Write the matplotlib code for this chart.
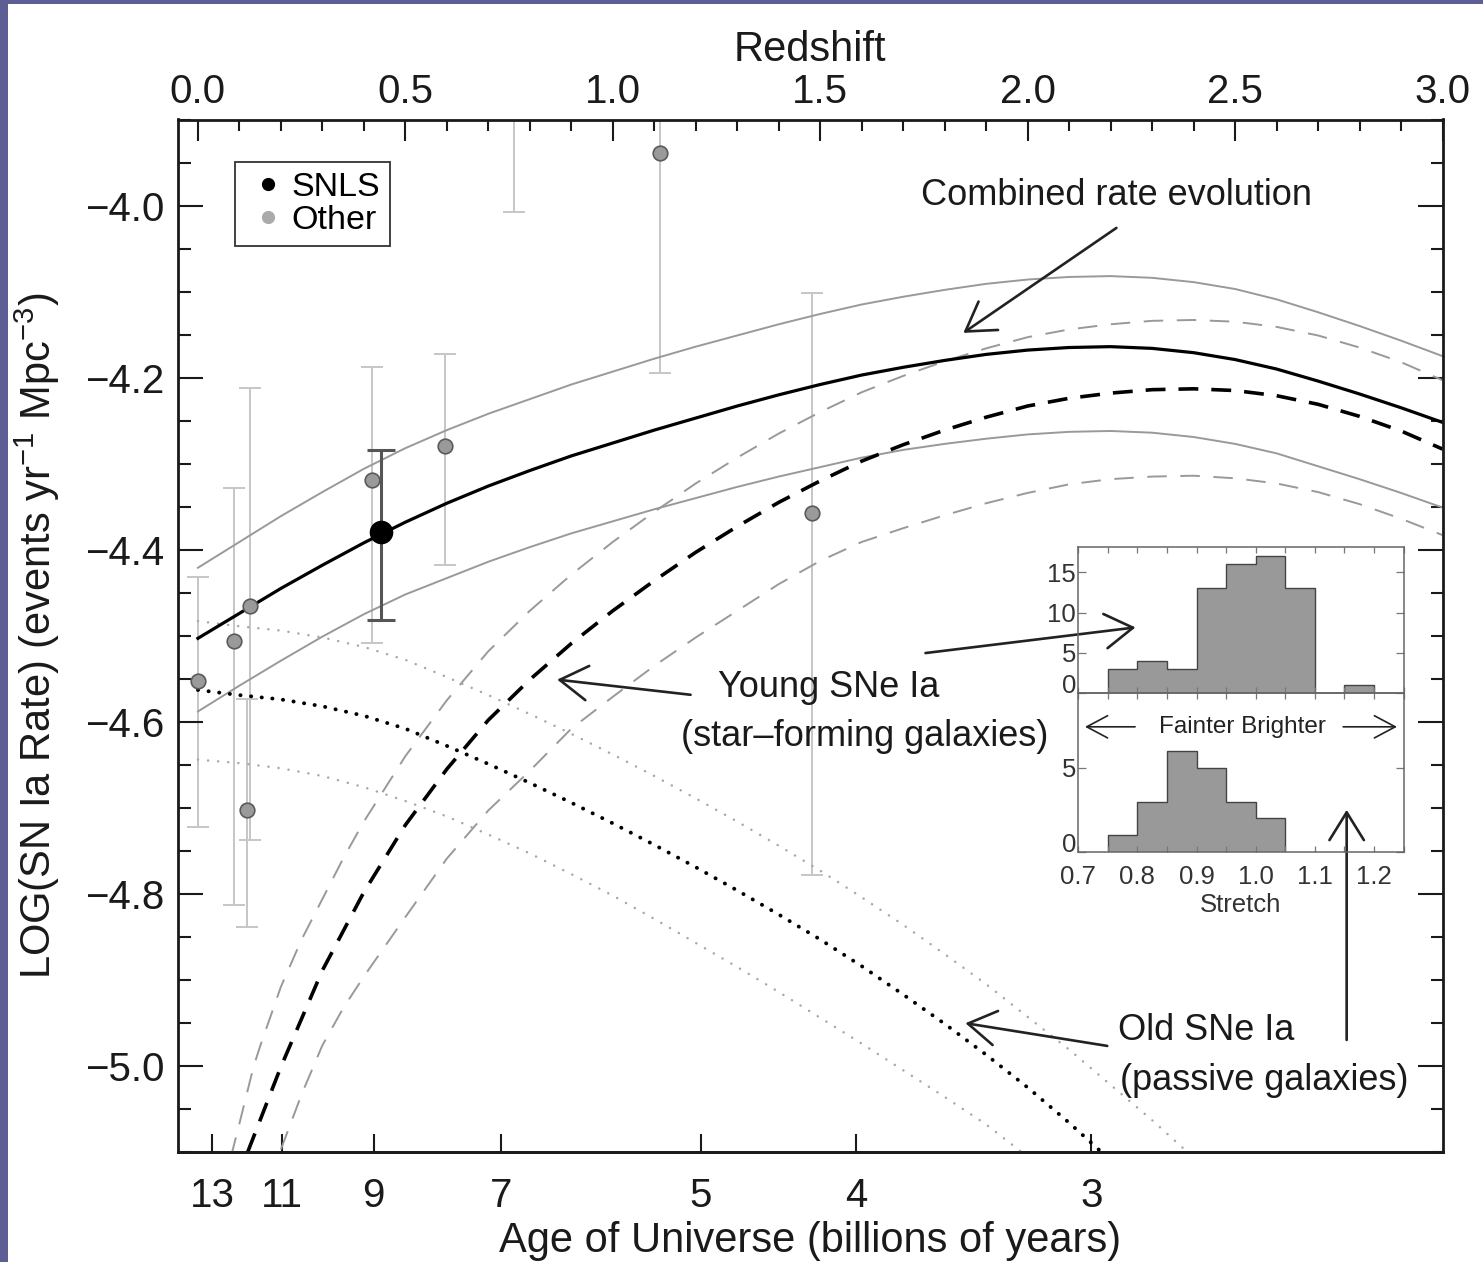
import numpy as np
import matplotlib
matplotlib.use('Agg')
import matplotlib.pyplot as plt
from matplotlib.patches import Rectangle
from matplotlib.lines import Line2D
from matplotlib.ticker import MultipleLocator, NullLocator, FuncFormatter

plt.rcParams['font.family'] = ['Liberation Sans', 'DejaVu Sans']
plt.rcParams['mathtext.fontset'] = 'custom'
plt.rcParams['mathtext.rm'] = 'Liberation Sans'
plt.rcParams['mathtext.it'] = 'Liberation Sans:italic'
plt.rcParams['mathtext.bf'] = 'Liberation Sans:bold'
plt.rcParams['mathtext.default'] = 'regular'

# ---------------- data ----------------
redshift_ticks = [0.0, 0.5, 1.0, 1.5, 2.0, 2.5, 3.0]
age_ticks = [13, 11, 9, 7, 5, 4, 3]

# combined rate evolution (solid) and its uncertainty band
z_comb = [0.0, 0.1, 0.2, 0.3, 0.4, 0.5, 0.6, 0.7, 0.8, 0.9, 1.0, 1.1, 1.2, 1.3, 1.4, 1.5,
          1.6, 1.7, 1.8, 1.9, 2.0, 2.1, 2.2, 2.3, 2.4, 2.5, 2.6, 2.7, 2.8, 2.9, 3.0]
comb = [-4.503, -4.474, -4.445, -4.418, -4.392, -4.368, -4.346, -4.326, -4.308, -4.291,
        -4.276, -4.261, -4.247, -4.233, -4.220, -4.208, -4.197, -4.188, -4.180, -4.173,
        -4.168, -4.165, -4.164, -4.166, -4.171, -4.179, -4.190, -4.204, -4.219, -4.235, -4.252]
comb_hi = [-4.421, -4.391, -4.361, -4.333, -4.306, -4.282, -4.261, -4.242, -4.225, -4.208,
           -4.193, -4.178, -4.164, -4.151, -4.138, -4.126, -4.115, -4.106, -4.098, -4.091,
           -4.086, -4.083, -4.082, -4.084, -4.089, -4.097, -4.109, -4.124, -4.140, -4.157, -4.175]
comb_lo = [-4.588, -4.558, -4.529, -4.501, -4.475, -4.452, -4.433, -4.414, -4.397, -4.381,
           -4.367, -4.353, -4.340, -4.327, -4.315, -4.304, -4.293, -4.284, -4.277, -4.271,
           -4.266, -4.263, -4.262, -4.264, -4.269, -4.277, -4.288, -4.303, -4.318, -4.334, -4.351]

# young SNe Ia (dashed)
z_young = [0.12, 0.2, 0.3, 0.4, 0.5, 0.6, 0.7, 0.8, 0.9, 1.0, 1.1, 1.2, 1.3, 1.4, 1.5, 1.6,
           1.7, 1.8, 1.9, 2.0, 2.1, 2.2, 2.3, 2.4, 2.5, 2.6, 2.7, 2.8, 2.9, 3.0]
young = [-5.100, -5.001, -4.889, -4.798, -4.720, -4.655, -4.598, -4.551, -4.509, -4.471,
         -4.436, -4.403, -4.373, -4.345, -4.320, -4.297, -4.278, -4.261, -4.246, -4.233,
         -4.224, -4.218, -4.214, -4.213, -4.215, -4.221, -4.231, -4.245, -4.262, -4.283]
z_young_hi = [0.08, 0.1, 0.134, 0.15, 0.2, 0.25, 0.3, 0.35, 0.4, 0.5, 0.6, 0.7, 0.8, 0.9, 1.0,
              1.1, 1.2, 1.3, 1.4, 1.5, 1.6, 1.7, 1.8, 1.9, 2.0, 2.1, 2.2, 2.3, 2.4, 2.5, 2.6,
              2.7, 2.8, 2.9, 3.0]
young_hi = [-5.105, -5.067, -5.001, -4.977, -4.908, -4.853, -4.806, -4.759, -4.716, -4.640,
            -4.575, -4.518, -4.471, -4.429, -4.391, -4.356, -4.323, -4.293, -4.265, -4.240,
            -4.217, -4.198, -4.181, -4.166, -4.153, -4.144, -4.138, -4.134, -4.133, -4.135,
            -4.141, -4.151, -4.165, -4.182, -4.203]
z_young_lo = [0.2, 0.25, 0.3, 0.35, 0.4, 0.5, 0.6, 0.7, 0.8, 0.9, 1.0, 1.1, 1.2, 1.3, 1.4,
              1.5, 1.6, 1.7, 1.8, 1.9, 2.0, 2.1, 2.2, 2.3, 2.4, 2.5, 2.6, 2.7, 2.8, 2.9, 3.0]
young_lo = [-5.097, -5.033, -4.976, -4.933, -4.896, -4.827, -4.759, -4.703, -4.657, -4.608,
            -4.571, -4.535, -4.502, -4.471, -4.440, -4.413, -4.391, -4.375, -4.360, -4.346,
            -4.334, -4.324, -4.318, -4.315, -4.314, -4.317, -4.323, -4.333, -4.347, -4.364,
            -4.383]

# old SNe Ia (dotted)
z_old = [0.0, 0.1, 0.2, 0.3, 0.4, 0.5, 0.6, 0.7, 0.8, 0.9, 1.0, 1.1, 1.2, 1.3, 1.4, 1.5,
         1.6, 1.7, 1.8, 1.9, 2.0, 2.1, 2.18]
old = [-4.563, -4.569, -4.574, -4.582, -4.593, -4.608, -4.628, -4.649, -4.671, -4.694,
       -4.718, -4.743, -4.769, -4.796, -4.824, -4.853, -4.884, -4.917, -4.951, -4.987,
       -5.025, -5.066, -5.101]
z_old_hi = [0.0, 0.1, 0.2, 0.3, 0.4, 0.5, 0.6, 0.7, 0.8, 0.9, 1.0, 1.1, 1.2, 1.3, 1.4, 1.5,
            1.6, 1.7, 1.8, 1.9, 2.0, 2.1, 2.2, 2.3, 2.385]
old_hi = [-4.483, -4.489, -4.494, -4.502, -4.513, -4.528, -4.548, -4.569, -4.591, -4.614,
          -4.638, -4.663, -4.689, -4.716, -4.744, -4.773, -4.804, -4.836, -4.870, -4.905,
          -4.943, -4.981, -5.022, -5.063, -5.100]
z_old_lo = [0.0, 0.1, 0.2, 0.3, 0.4, 0.5, 0.6, 0.7, 0.8, 0.9, 1.0, 1.1, 1.2, 1.3, 1.4, 1.5,
            1.6, 1.7, 1.8, 1.9, 1.985]
old_lo = [-4.644, -4.648, -4.654, -4.663, -4.676, -4.692, -4.710, -4.731, -4.753, -4.777,
          -4.802, -4.829, -4.857, -4.885, -4.914, -4.944, -4.974, -5.005, -5.036, -5.068,
          -5.100]

# measurements
other_z = [0.0, 0.088, 0.126, 0.118, 0.420, 0.596, 0.761, 1.115, 1.481]
other_rate = [-4.553, -4.506, -4.465, -4.702, -4.319, -4.280, -3.800, -3.939, -4.357]
other_low = [-4.722, -4.813, -4.737, -4.839, -4.508, -4.418, -4.007, -4.195, -4.778]
other_high = [-4.432, -4.328, -4.212, -4.574, -4.188, -4.173, -3.650, -3.800, -4.102]
snls_z = [0.442]
snls_rate = [-4.379]
snls_low = [-4.482]
snls_high = [-4.284]

# inset histograms (stretch)
stretch_edges_sf = [0.75, 0.80, 0.85, 0.90, 0.95, 1.00, 1.05, 1.10, 1.15, 1.20]
counts_sf = [3, 4, 3, 13, 16, 17, 13, 0, 1]
stretch_edges_pa = [0.75, 0.80, 0.85, 0.90, 0.95, 1.00, 1.05]
counts_pa = [1, 3, 6, 5, 3, 2]
inset_xticks = [0.7, 0.8, 0.9, 1.0, 1.1, 1.2]

# cosmology for the age axis (H0=70, Om=0.3, OL=0.7)
H0, Om, OL = 70.0, 0.3, 0.7
hubble_time = 977.8 / H0
a_grid = np.linspace(1e-8, 1.3, 200001)
integrand = 1.0 / np.sqrt(Om / a_grid + OL * a_grid ** 2)
age_grid = hubble_time * np.concatenate(
    [[0.0], np.cumsum(0.5 * (integrand[1:] + integrand[:-1]) * np.diff(a_grid))])
z_grid = 1.0 / a_grid - 1.0


def z_to_age(z):
    return np.interp(z, z_grid[::-1], age_grid[::-1])


def age_to_z(t):
    return np.interp(t, age_grid, z_grid)


# ---------------- figure ----------------
W, H = 1483, 1262
fig = plt.figure(figsize=(W / 100, H / 100), dpi=100)
fig.patch.set_facecolor('white')
border = '#5d5e94'
fig.add_artist(Rectangle((0, 0), 8 / W, 1, transform=fig.transFigure, color=border, lw=0))
fig.add_artist(Rectangle((0, 1 - 4 / H), 1, 4 / H, transform=fig.transFigure, color=border, lw=0))

L, R, T, B = 178, 1442.5, 119.5, 1152
ax = fig.add_axes([L / W, 1 - B / H, (R - L) / W, (B - T) / H])
ax.set_xlim(-0.048, 3.0)
ax.set_ylim(-5.1, -3.9)

INK = '#1a1a1a'
GRAY = '#999999'
# curves
ax.plot(z_comb, comb_hi, color=GRAY, lw=1.4, zorder=2)
ax.plot(z_comb, comb_lo, color=GRAY, lw=1.4, zorder=2)
ax.plot(z_comb, comb, color='black', lw=2.3, zorder=2.2)
ax.plot(z_young_hi, young_hi, color=GRAY, lw=1.4, dashes=(10, 7), zorder=2)
ax.plot(z_young_lo, young_lo, color=GRAY, lw=1.4, dashes=(10, 7), zorder=2)
ax.plot(z_young, young, color='black', lw=2.6, dashes=(5.5, 3.6), zorder=2.2)
ax.plot(z_old_hi, old_hi, color='#a8a8a8', lw=1.8, dashes=(0.05, 4.0),
        dash_capstyle='round', zorder=2)
ax.plot(z_old_lo, old_lo, color='#a8a8a8', lw=1.8, dashes=(0.05, 4.0),
        dash_capstyle='round', zorder=2)
ax.plot(z_old, old, color='black', lw=2.8, dashes=(0.05, 2.7),
        dash_capstyle='round', zorder=2.2)

# measurements
o_r = np.array(other_rate)
ax.errorbar(other_z, other_rate, yerr=[o_r - np.array(other_low), np.array(other_high) - o_r],
            fmt='none', ecolor='#c6c6c6', elinewidth=1.4, capsize=8, capthick=1.4, zorder=1)
ax.plot(other_z, other_rate, ls='none', marker='o', ms=10.5, mfc='#9a9a9a', mec='#5a5a5a',
        mew=1.2, zorder=4)
s_r = np.array(snls_rate)
ax.errorbar(snls_z, snls_rate, yerr=[s_r - np.array(snls_low), np.array(snls_high) - s_r],
            fmt='none', ecolor='#555555', elinewidth=2.2, capsize=10, capthick=2.2, zorder=3)
ax.plot(snls_z, snls_rate, ls='none', marker='o', ms=16, color='black', zorder=5)

# axes styling
for sp in ax.spines.values():
    sp.set_linewidth(2.0)
    sp.set_color(INK)
ax.xaxis.set_ticks_position('top')
ax.xaxis.set_label_position('top')
ax.set_xticks(redshift_ticks)
ax.xaxis.set_major_formatter(FuncFormatter(lambda v, p: f'{v:.1f}'))
ax.xaxis.set_minor_locator(MultipleLocator(0.1))
ax.yaxis.set_major_locator(MultipleLocator(0.2))
ax.yaxis.set_minor_locator(MultipleLocator(0.05))
ax.yaxis.set_major_formatter(FuncFormatter(lambda v, p: f'{v:.1f}'.replace('-', '\u2212')))
ax.tick_params(axis='x', which='major', direction='in', length=15, width=1.5, pad=6,
               labelsize=29, top=True, bottom=False, colors=INK)
ax.tick_params(axis='x', which='minor', direction='in', length=8, width=1.5,
               top=True, bottom=False, colors=INK)
ax.tick_params(axis='y', which='major', direction='in', length=18, width=1.5, pad=10,
               labelsize=29, left=True, right=True, colors=INK)
ax.tick_params(axis='y', which='minor', direction='in', length=9, width=1.5,
               left=True, right=True, colors=INK)
ax.set_xlabel('Redshift', fontsize=30, labelpad=9, color=INK)
ax.set_ylabel('LOG(SN Ia Rate) (events yr$^{-1}$ Mpc$^{-3}$)', fontsize=30, labelpad=16,
              color=INK)

sec = ax.secondary_xaxis('bottom', functions=(z_to_age, age_to_z))
sec.set_xticks(age_ticks)
sec.set_xticklabels([str(t) for t in age_ticks])
sec.xaxis.set_minor_locator(NullLocator())
sec.tick_params(axis='x', direction='in', length=13, width=1.5, pad=18, labelsize=29,
                colors=INK)
sec.spines['bottom'].set_linewidth(2.0)
sec.spines['bottom'].set_color(INK)
sec.set_xlabel('Age of Universe (billions of years)', fontsize=30, labelpad=4, color=INK)

# legend
handles = [Line2D([], [], ls='none', marker='o', ms=8.5, mfc='black', mec='black'),
           Line2D([], [], ls='none', marker='o', ms=8.5, mfc='#aaaaaa', mec='#aaaaaa')]
leg = ax.legend(handles, ['SNLS', 'Other'], loc='upper left',
                bbox_to_anchor=((235 - L) / (R - L), 1 - (162 - T) / (B - T)),
                borderaxespad=0, frameon=True, fancybox=False, edgecolor='#333333',
                fontsize=24.5, handlelength=1.35, handletextpad=0.0, borderpad=0.3,
                labelspacing=0.05, framealpha=1)
leg.get_frame().set_linewidth(1.3)

# annotations
arrow_kw = dict(arrowstyle='->,head_length=1.0,head_width=0.62', mutation_scale=20, lw=1.9,
                color='#222222', shrinkA=0, shrinkB=0)
ax.text(2.214, -3.999, 'Combined rate evolution', fontsize=26, ha='center', va='baseline',
        color=INK)
ax.annotate('', xy=(1.845, -4.148), xytext=(2.214, -4.026), arrowprops=arrow_kw)
ax.text(1.5206, -4.571, 'Young SNe Ia', fontsize=26, ha='center', va='baseline', color=INK)
ax.text(1.607, -4.628, '(star\u2013forming galaxies)', fontsize=26, ha='center',
        va='baseline', color=INK)
ax.annotate('', xy=(0.866, -4.551), xytext=(1.1875, -4.5686), arrowprops=arrow_kw)
ax.annotate('', xy=(2.260, -4.4903), xytext=(1.7538, -4.5201), arrowprops=arrow_kw,
            annotation_clip=False)
ax.text(2.431, -4.970, 'Old SNe Ia', fontsize=26, ha='center', va='baseline', color=INK)
ax.text(2.5713, -5.028, '(passive galaxies)', fontsize=26, ha='center', va='baseline',
        color=INK)
ax.annotate('', xy=(1.850, -4.9503), xytext=(2.1919, -4.9767), arrowprops=arrow_kw)
ax.annotate('', xy=(2.769, -4.7023), xytext=(2.769, -4.9698), arrowprops=arrow_kw,
            annotation_clip=False)

# ---------------- inset ----------------
IL, IR, IT, IM, IB = 1078.3, 1403.5, 546.5, 693, 852
axu = fig.add_axes([IL / W, 1 - IM / H, (IR - IL) / W, (IM - IT) / H])
axl = fig.add_axes([IL / W, 1 - IB / H, (IR - IL) / W, (IB - IM) / H])
for a_ in (axu, axl):
    a_.set_facecolor('none')
    a_.set_xlim(0.7, 1.25)
    for sp in a_.spines.values():
        sp.set_linewidth(1.1)
        sp.set_color('#666666')
    a_.set_xticks(inset_xticks)
    a_.xaxis.set_minor_locator(MultipleLocator(0.05))
    a_.tick_params(axis='both', which='both', direction='in', top=True, bottom=True,
                   left=True, right=True, width=0.9, color='#777777', labelcolor='#333333',
                   labelsize=18.5)
    a_.tick_params(axis='x', which='both', length=4, pad=9)
    a_.tick_params(axis='y', which='major', length=6, pad=1.5)

axu.stairs(counts_sf, stretch_edges_sf, fill=True, color='#999999', lw=0)
axu.stairs(counts_sf, stretch_edges_sf, color='#444444', lw=1.0)
axu.set_ylim(0, 18.2)
axu.set_yticks([0, 5, 10, 15])
axu.tick_params(axis='x', labelbottom=False)

axl.stairs(counts_pa, stretch_edges_pa, fill=True, color='#999999', lw=0)
axl.stairs(counts_pa, stretch_edges_pa, color='#444444', lw=1.0)
axl.set_ylim(0, 9.45)
axl.set_yticks([0, 5])
axl.xaxis.set_major_formatter(FuncFormatter(lambda v, p: f'{v:.1f}'))
axl.set_xlabel('Stretch', fontsize=18.5, labelpad=3, color='#333333')

for a_ in (axu, axl):
    for lab in a_.get_yticklabels():
        if lab.get_text() == '0':
            lab.set_va('baseline')

axl.text(0.977, 7.44, 'Fainter Brighter', fontsize=17.5, ha='center', va='center',
         color='#222222')
small_arrow = dict(arrowstyle='->,head_length=0.75,head_width=0.4', mutation_scale=20, lw=1.2,
                   color='#222222', shrinkA=0, shrinkB=0)
axl.annotate('', xy=(0.7113, 7.44), xytext=(0.796, 7.44), arrowprops=small_arrow)
axl.annotate('', xy=(1.239, 7.44), xytext=(1.148, 7.44), arrowprops=small_arrow)

fig.savefig('out.png', dpi=100, facecolor=fig.get_facecolor())
